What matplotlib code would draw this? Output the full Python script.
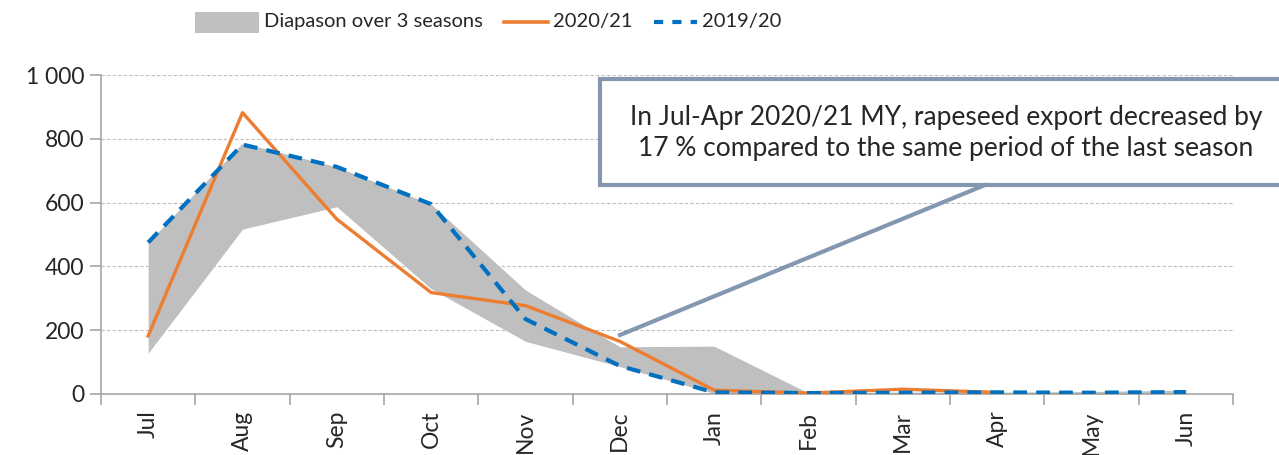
import numpy as np
import matplotlib.pyplot as plt
from matplotlib.patches import Rectangle
from matplotlib.lines import Line2D

months = ["Jul", "Aug", "Sep", "Oct", "Nov", "Dec", "Jan", "Feb", "Mar", "Apr", "May", "Jun"]
season_2020_21 = [182, 882, 548, 318, 277, 165, 12, 3, 15, 5, np.nan, np.nan]
season_2019_20 = [475, 782, 712, 595, 235, 88, 5, 3, 4, 5, 4, 6]
range_low = [128, 517, 587, 330, 165, 86, 2, 0, 0, 0, 0, 0]
range_high = [475, 787, 712, 595, 326, 148, 150, 3, 6, 6, 8, 12]

legend_labels = ["Diapason over 3 seasons", "2020/21", "2019/20"]
note = ("In Jul-Apr 2020/21 MY, rapeseed export decreased by\n"
        "17 % compared to the same period of the last season")

plt.rcParams["font.family"] = ["Lato", "DejaVu Sans"]
text_col = "#262626"
grid_col = "#bfbfbf"
spine_col = "#a6a6a6"
band_col = "#bfbfbf"
orange = "#ed7d31"
blue = "#0070c0"

W, H = 1279, 455
fig = plt.figure(figsize=(W / 100, H / 100), dpi=100)
ax = fig.add_axes([101 / W, 1 - 394 / H, 1132 / W, 319 / H])


def fx(px):
    return px / W


def fy(py):
    return 1 - py / H


x = np.arange(len(months))
ax.fill_between(x, range_low, range_high, color=band_col, lw=0, zorder=1)
ax.plot(x, season_2020_21, color=orange, lw=2.4, zorder=3)
ax.plot(x, season_2019_20, color=blue, lw=3, ls=(0, (3.3, 2.2)), zorder=4)

ax.set_xlim(-0.5, len(months) - 0.5)
ax.set_ylim(0, 1000)
ax.set_yticks(range(0, 1001, 200))
ax.set_yticklabels([f"{v:,}".replace(",", " ") for v in range(0, 1001, 200)])
ax.set_xticks(x)
ax.set_xticklabels(months, rotation=90)
ax.set_xticks(np.arange(-0.5, len(months)), minor=True)
ax.tick_params(axis="x", which="major", length=0, pad=12, labelsize=16.5, labelcolor=text_col)
ax.tick_params(axis="x", which="minor", length=8, color=spine_col, width=1.2)
ax.tick_params(axis="y", length=8, color=spine_col, width=1.2, labelsize=16.5,
               labelcolor=text_col, pad=4)

ax.grid(axis="y", color=grid_col, ls=(0, (3, 2)), lw=0.8)
ax.set_axisbelow(True)
for s in ["top", "right"]:
    ax.spines[s].set_visible(False)
for s in ["left", "bottom"]:
    ax.spines[s].set_color(spine_col)
    ax.spines[s].set_linewidth(1.2)

# annotation box, running off the right edge of the figure
box_col = "#8497b0"
fig.add_artist(Rectangle((fx(600), fy(185)), fx(700), 106 / H, transform=fig.transFigure,
                         facecolor="white", edgecolor=box_col, lw=3, zorder=5))
fig.text(fx(946), fy(133), note, ha="center", va="center", fontsize=19,
         color=text_col, linespacing=1.3, zorder=6)
fig.add_artist(Line2D([fx(620), fx(985)], [fy(335), fy(185)], transform=fig.transFigure,
                      color=box_col, lw=3, zorder=5))

# legend row, laid out left to right and centred on the chart
ly = fy(22)
key_w = [64, 43, 43]
texts = [fig.text(0, ly, lab, ha="left", va="center", fontsize=14.5, color=text_col)
         for lab in legend_labels]
renderer = fig.canvas.get_renderer()
text_w = [t.get_window_extent(renderer).width for t in texts]
gap_key, gap_item = 5, 22
total = sum(key_w) + sum(text_w) + 3 * gap_key + 2 * gap_item
px = 488 - total / 2
for i, t in enumerate(texts):
    k0, k1 = px, px + key_w[i]
    if i == 0:
        fig.add_artist(Rectangle((fx(k0), fy(33)), fx(key_w[i]), 21 / H,
                                 transform=fig.transFigure, facecolor=band_col,
                                 edgecolor="none"))
    elif i == 1:
        fig.add_artist(Line2D([fx(k0), fx(k1)], [ly, ly], transform=fig.transFigure,
                              color=orange, lw=2.6))
    else:
        fig.add_artist(Line2D([fx(k0), fx(k1)], [ly, ly], transform=fig.transFigure,
                              color=blue, lw=3, ls=(0, (2.2, 2.2))))
    t.set_x(fx(k1 + gap_key))
    px = k1 + gap_key + text_w[i] + gap_item

fig.savefig("out.png", dpi=100)
